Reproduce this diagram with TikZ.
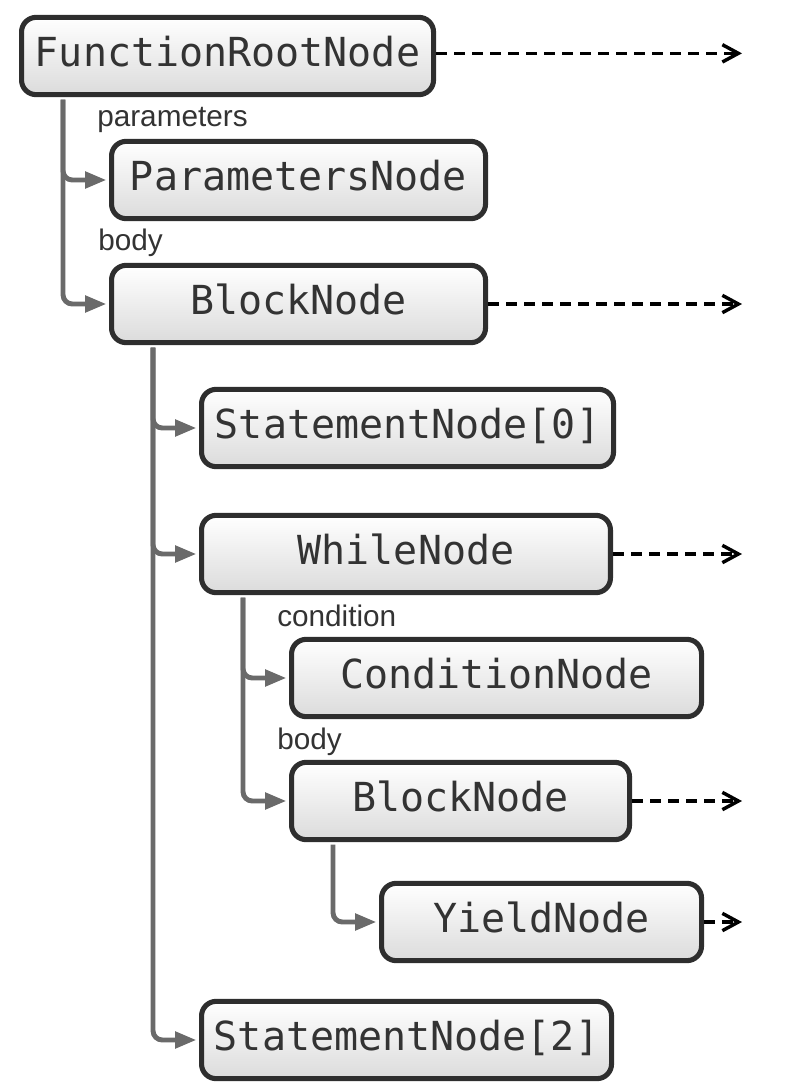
\documentclass[tikz,border=0pt]{standalone}
\usepackage{fontspec}
\setmainfont{Liberation Sans}
\setmonofont{DejaVu Sans Mono}
\usetikzlibrary{arrows.meta, positioning}
\definecolor{boxline}{HTML}{2E2E2E}
\definecolor{treeline}{HTML}{6A6A6A}
\definecolor{txt}{HTML}{333333}

\begin{document}
\begin{tikzpicture}[x=0.75pt, y=-0.75pt,
      ast/.style={draw=boxline, line width=3.8pt, rounded corners=11pt, top color=white, bottom color=black!14,
        minimum height=58pt, inner sep=0pt, text=txt, font=\ttfamily\fontsize{30}{32}\selectfont,
        text height=22pt, text depth=6pt, anchor=west},
      lbl/.style={anchor=west, inner sep=0pt, text=txt, font=\fontsize{22.3}{24}\selectfont},
      edge/.style={draw=treeline, line width=3.7pt, rounded corners=7pt, shorten >=1.9pt,
        -{Triangle[length=16pt, width=12pt]}},
      more/.style={draw=black, line width=2.6pt, dash pattern=on 8.5pt off 5pt,
        -{Straight Barb[length=12pt, width=13pt]}}]
    \useasboundingbox (0,0) rectangle (785,1090);
    \coordinate (tipx) at (742,0);

    % nodes
    \node[ast, minimum width=309pt] (root) at (19,56) {FunctionRootNode};
    \node[ast, minimum width=280.5pt] (params) at (109,180) {ParametersNode};
    \node[ast, minimum width=280.5pt] (block) at (109,304) {BlockNode};
    \node[ast, minimum width=309pt] (stmt0) at (199,428) {StatementNode[0]};
    \node[ast, minimum width=306.7pt] (while) at (199,554) {WhileNode};
    \node[ast, minimum width=307.5pt] (cond) at (289,678) {ConditionNode};
    \node[ast, minimum width=253.5pt] (wblock) at (289,801) {BlockNode};
    \node[ast, minimum width=240pt] (yield) at (379,922) {YieldNode};
    \node[ast, minimum width=307.5pt] (stmt2) at (199,1040) {StatementNode[2]};

    % edge labels
    \node[lbl] (lparams) at (97,120) {parameters};
    \node[lbl] (lbody) at (98,243) {body};
    \node[lbl] (lcond) at (277,616) {condition};
    \node[lbl] (lwbody) at (277,742) {body};

    % tree
    \draw[edge] ([xshift=33pt, yshift=-1.9pt]root.south west) |- (params.west);
    \draw[edge] ([xshift=33pt, yshift=-1.9pt]root.south west) |- (block.west);
    \draw[edge] ([xshift=33pt, yshift=-1.9pt]block.south west) |- (stmt0.west);
    \draw[edge] ([xshift=33pt, yshift=-1.9pt]block.south west) |- (while.west);
    \draw[edge] ([xshift=33pt, yshift=-1.9pt]block.south west) |- (stmt2.west);
    \draw[edge] ([xshift=33pt, yshift=-1.9pt]while.south west) |- (cond.west);
    \draw[edge] ([xshift=33pt, yshift=-1.9pt]while.south west) |- (wblock.west);
    \draw[edge] ([xshift=33pt, yshift=-1.9pt]wblock.south west) |- (yield.west);

    % continuations
    \draw[more] ([yshift=2pt]root.east) -- ([yshift=2pt]root.east -| tipx);
    \draw[more] (block.east) -- (block.east -| tipx);
    \draw[more] (while.east) -- (while.east -| tipx);
    \draw[more] (wblock.east) -- (wblock.east -| tipx);
    \draw[more] (yield.east) -- (yield.east -| tipx);
\end{tikzpicture}
\end{document}
